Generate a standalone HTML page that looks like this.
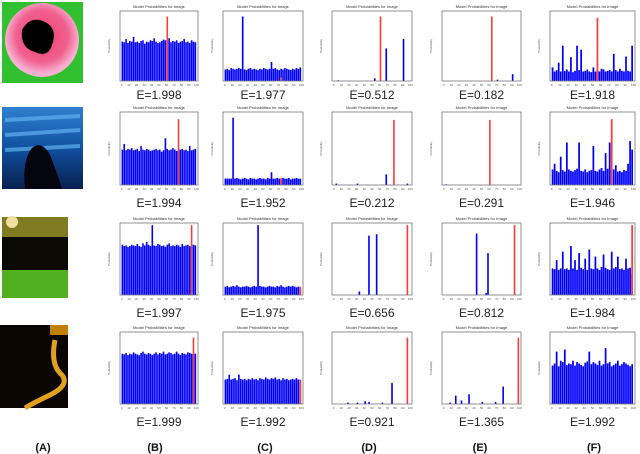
<!DOCTYPE html>
<html><head><meta charset="utf-8"><style>
body{margin:0;background:#fff;width:640px;height:454px;overflow:hidden;font-family:"Liberation Sans",sans-serif}
svg{display:block}
</style></head><body>
<svg id="fig" width="640" height="454" viewBox="0 0 640 454" xmlns="http://www.w3.org/2000/svg">
<defs>
<radialGradient id="g1" cx="50%" cy="45%" r="50%"><stop offset="0" stop-color="#f04070"/><stop offset="0.7" stop-color="#f06090"/><stop offset="1" stop-color="#f8b0d0"/></radialGradient>
<linearGradient id="g2" x1="0" y1="0" x2="0" y2="1"><stop offset="0" stop-color="#3080d0"/><stop offset="0.5" stop-color="#1050a0"/><stop offset="1" stop-color="#082050"/></linearGradient>
</defs>
<g>
<rect x="2" y="2" width="81" height="81" fill="#30c030"/>
<circle cx="42" cy="40" r="37" fill="url(#g1)"/>
<path d="M22 30 Q30 15 45 22 Q58 28 52 45 Q48 58 35 52 Q20 48 22 30Z" fill="#000"/>
</g>
<g>
<rect x="2" y="107" width="81" height="82" fill="url(#g2)"/>
<path d="M5 120 L80 116 M5 135 L80 130 M5 150 L80 146" stroke="#60b0f0" stroke-width="4" opacity="0.7"/>
<path d="M25 189 Q22 160 32 148 Q42 140 50 155 Q58 175 62 189Z" fill="#050510"/>
</g>
<g>
<rect x="2" y="217" width="66" height="81" fill="#0a0a00"/>
<rect x="2" y="217" width="66" height="20" fill="#807a20"/>
<circle cx="12" cy="222" r="6" fill="#f0e0a0"/>
<rect x="2" y="270" width="66" height="28" fill="#50b020"/>
</g>
<g>
<rect x="0" y="325" width="68" height="83" fill="#0a0500"/>
<rect x="50" y="325" width="18" height="10" fill="#c08000"/>
<path d="M55 340 Q50 365 62 375 Q70 385 50 395 Q35 402 25 408" stroke="#e0a020" stroke-width="5" fill="none"/>
</g>
<g id="charts"></g>
<g font-size="12" fill="#222" text-anchor="middle" id="elabels"></g>
<g font-size="11" font-weight="bold" fill="#111" text-anchor="middle">
<text x="43" y="451">(A)</text>
<text x="155" y="451">(B)</text>
<text x="265" y="451">(C)</text>
<text x="369" y="451">(D)</text>
<text x="480" y="451">(E)</text>
<text x="594" y="451">(F)</text>
</g>
</svg>
<script>
const xTicks = ["0","10","20","30","40","50","60","70","80","90","100"];
const entropies = ["1.998","1.977","0.512","0.182","1.918","1.994","1.952","0.212","0.291","1.946","1.997","1.975","0.656","0.812","1.984","1.999","1.992","0.921","1.365","1.992"];
const B1=[58,57,62,56,59,58,65,57,58,56,59,60,55,58,57,60,59,63,58,56,57,59,61,60,58,63,57,59,58,60,56,58,59,62,57,58,56,60,58,57];
const C1=[17,18,16,19,18,17,18,19,18,95,17,16,18,19,17,18,17,16,18,17,19,18,17,18,28,18,19,17,16,18,17,19,18,17,16,18,17,19,18,20];
const D1=[0,0,1,0,0,0,0,0,0,0,0,0,0,0,0,0,0,0,0,0,0,4,0,0,0,0,0,48,0,0,0,0,0,0,0,0,62,0,0,0];
const E1=[0,0,0,0,0,0,0,0,0,0,0,0,0,0,0,0,0,0,0,0,0,0,0,0,0,0,0,0,2,0,0,0,0,0,0,0,10,0,0,0];
const F1=[20,14,16,27,14,52,15,17,14,35,13,15,52,16,46,14,15,17,14,13,20,14,16,14,18,17,14,15,16,14,40,16,14,18,15,14,36,15,14,52];
const B2=[50,58,49,51,50,52,49,50,51,48,55,50,49,51,50,48,49,50,51,49,50,47,49,66,51,49,50,52,50,48,49,50,51,49,50,48,55,49,50,51];
const C2=[9,9,9,9,95,9,10,9,8,9,10,9,8,10,9,9,8,9,10,9,9,8,10,9,18,9,9,10,9,8,10,9,9,10,8,9,9,10,9,9];
const D2=[0,2,0,0,0,0,0,0,0,0,0,0,2,0,0,0,0,0,0,0,0,0,0,0,0,0,0,15,0,0,0,0,0,0,0,0,0,0,2,0];
const E2=[0,1,0,0,0,0,0,0,0,0,0,0,0,0,0,0,0,0,0,0,0,0,0,0,0,0,0,0,0,0,0,0,0,0,0,0,0,0,0,0];
const F2=[22,30,20,18,40,21,19,60,22,20,19,21,23,60,20,19,22,18,20,21,55,20,19,22,24,20,45,23,60,21,22,28,19,20,18,21,20,30,62,50];
const B3=[72,70,71,69,70,72,71,70,73,70,69,74,71,76,72,70,100,71,70,73,72,70,71,69,72,74,70,71,70,72,71,69,73,70,71,72,70,69,72,71];
const C3=[12,13,11,12,13,12,14,12,11,12,12,13,12,11,12,13,12,100,13,12,12,11,12,13,12,12,11,13,12,14,12,11,12,13,12,13,12,11,12,10];
const D3=[0,0,0,0,0,0,0,0,0,0,0,0,0,5,0,0,0,0,85,0,0,0,87,0,0,0,0,0,0,0,0,0,0,0,0,0,0,0,0,0];
const E3=[0,0,0,0,0,0,0,0,0,0,0,0,0,0,0,0,0,88,0,0,0,0,3,60,0,0,0,0,0,0,0,0,0,0,0,0,0,0,0,0];
const F3=[38,37,50,36,38,62,37,38,36,70,38,50,36,60,39,37,52,36,65,38,37,55,38,36,40,58,39,37,36,62,38,40,55,37,38,36,52,38,39,30];
const B4=[72,71,73,70,72,71,74,72,71,70,73,75,72,71,73,72,70,72,74,71,73,72,75,71,72,74,73,71,72,75,72,70,73,72,71,74,73,72,71,72];
const C4=[35,36,42,35,36,37,34,42,36,35,36,34,36,35,37,35,36,34,37,36,35,38,36,35,37,36,38,35,36,34,37,35,36,34,35,36,35,37,35,34];
const D4=[0,0,0,0,0,0,0,2,0,0,0,0,2,0,0,0,4,0,3,0,0,0,0,0,0,2,0,0,0,0,30,0,0,0,0,0,0,0,0,0];
const E4=[0,0,0,2,0,0,12,0,0,5,0,0,0,14,0,0,0,0,0,0,3,0,0,0,0,0,0,3,0,0,0,25,0,0,0,0,0,0,0,0];
const F4=[55,58,75,54,62,60,78,56,58,57,62,55,60,58,56,54,59,61,75,57,60,58,56,62,55,57,80,58,60,54,56,58,62,55,57,60,58,56,54,57];
const series=[B1,C1,D1,E1,F1,B2,C2,D2,E2,F2,B3,C3,D3,E3,F3,B4,C4,D4,E4,F4];
const redIdx=[24,29,24,25,22,30,29,31,24,29,37,39,38,37,39,38,39,38,39,-1];
const redVal=[95,5,95,95,93,93,10,92,92,93,100,12,100,100,100,95,35,95,95,0];

const NS="http://www.w3.org/2000/svg";
const cols=[[120,198],[223,303],[332,412],[442,521],[550,635]];
const rowsY=[[11,81],[112,185],[223,295],[332,404]];
const eY=[99,207,317,426];
function mk(tag,attrs,parent){const e=document.createElementNS(NS,tag);for(const k in attrs)e.setAttribute(k,attrs[k]);parent.appendChild(e);return e;}
const charts=document.getElementById('charts');
const el=document.getElementById('elabels');
const cl="ABCDEF";
for(let r=0;r<4;r++){for(let c=0;c<5;c++){
 const i=r*5+c;const cx=cols[c];const [y0,y1]=rowsY[r];
 const x0=cx[0],w=cx[1]-cx[0],h=y1-y0;
 const g=mk('g',{},charts);
 
 
 const t=mk('text',{x:x0+w/2,y:y0-3,'font-size':4,'text-anchor':'middle',fill:'#333'},g);
 t.textContent="Model Probabilities for Image";
 
 
 const vals=series[i];const n=vals.length;const bw=w*0.96/n;
 const xs=k=>x0+w*0.02+k*bw;const ys=v=>y1-v/100*h*0.97;
 vals.forEach((v,k)=>{ if(v<=0)return;
  const b=mk('rect',{x:xs(k),y:ys(v),width:bw*0.85,height:y1-ys(v),fill:'#0000ff'},g);
  
  });
 if(redIdx[i]>=0){const rb=mk('rect',{x:xs(redIdx[i]),y:ys(redVal[i]),width:Math.max(1.2,bw*0.85),height:y1-ys(redVal[i]),fill:'#ff3a3a'},g);
  
  }
 mk('rect',{x:x0,y:y0,width:w,height:h,fill:'none',stroke:'#777','stroke-width':0.8},g);
 xTicks.forEach((tk,k)=>{const tt=mk('text',{x:x0+w*0.02+k*w*0.096,y:y1+5,'font-size':3,'text-anchor':'middle',fill:'#555'},g);tt.textContent=tk;
  
  });
 const yl=mk('text',{x:x0-10,y:y0+h/2,'font-size':3,'text-anchor':'middle',fill:'#555',transform:`rotate(-90 ${x0-10} ${y0+h/2})`},g);
 yl.textContent="Probability";
 
 
 const e=mk('text',{x:x0+w/2,y:eY[r]},el);
 e.textContent="E="+entropies[i];
 
 
}}
</script>
</body></html>
